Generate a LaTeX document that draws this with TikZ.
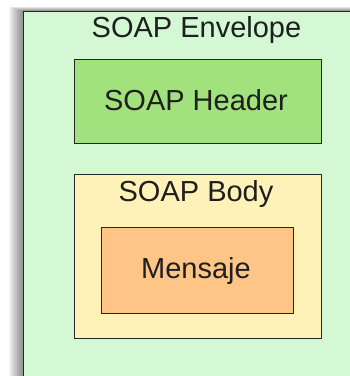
\documentclass[tikz,border=0pt]{standalone}
\usepackage{fontspec}
\setmainfont{Liberation Sans}
\begin{document}
\begin{tikzpicture}[x=1pt,y=-1pt,
  box/.style={draw=black!85, line width=1.4pt, rectangle, inner sep=0pt},
  lbl/.style={font=\fontsize{29}{34}\selectfont, text=black!88, anchor=base, inner sep=0pt}]
\definecolor{envfill}{HTML}{D4F8D4}
\definecolor{hdrfill}{HTML}{A2E27C}
\definecolor{bodyfill}{HTML}{FFF2B8}
\definecolor{msgfill}{HTML}{FFC587}
\useasboundingbox (0,0) rectangle (350,376);
\clip (0,0) rectangle (350,376);
\fill[white] (0,0) rectangle (350,376);
% soft shadow along the left and top edges of the envelope
\foreach \i in {1,...,14}
  \fill[black, opacity=0.035] (23-\i,11-0.3*\i) rectangle (360,390);
% envelope
\node[box, fill=envfill, line width=1.2pt, minimum width=350pt, minimum height=390pt, anchor=north west] (env) at (23,11) {};
\node[lbl] (envlbl) at (196.5,37) {SOAP Envelope};
% header
\node[box, fill=hdrfill, minimum width=247pt, minimum height=84pt, anchor=north west] (hdr) at (74,59) {};
\node[lbl] (hdrlbl) at (196,110) {SOAP Header};
% body
\node[box, fill=bodyfill, minimum width=247pt, minimum height=164pt, anchor=north west] (body) at (74,174) {};
\node[lbl] (bodylbl) at (196,201) {SOAP Body};
% message
\node[box, fill=msgfill, minimum width=192pt, minimum height=86pt, anchor=north west] (msg) at (101,227) {};
\node[lbl] (msglbl) at (196,278) {Mensaje};
\end{tikzpicture}
\end{document}
